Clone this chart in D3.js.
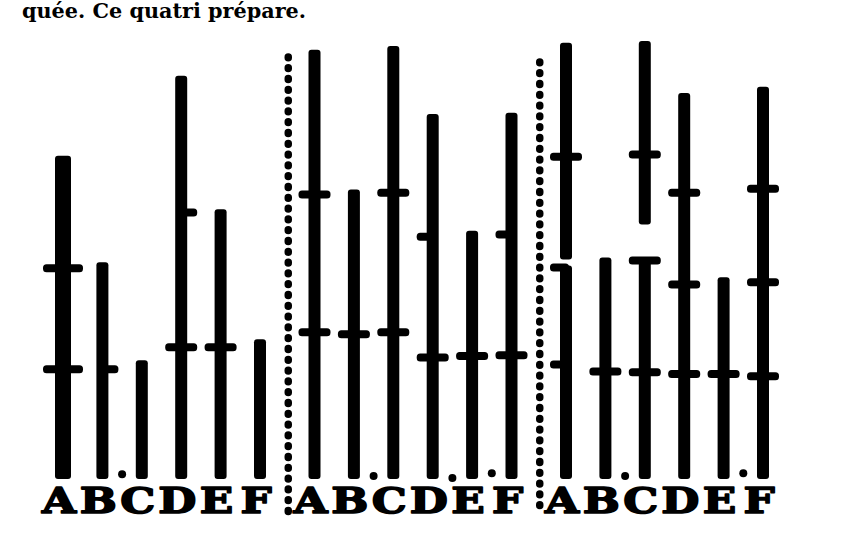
<!DOCTYPE html>
<html>
<head>
<meta charset="utf-8">
<script src="https://cdn.jsdelivr.net/npm/d3@7"></script>
<style>
  html, body { margin: 0; padding: 0; background: #fff; }
  svg { display: block; }
</style>
</head>
<body>
<svg id="chart" width="846" height="554"></svg>
<script>
// ---------- data ----------
const groups = ["I", "II", "III"];
const categories = ["A", "B", "C", "D", "E", "F"];

// height of each bar (units 0..100)
const barTops = [
  [73.2, 48.9, 26.6, 91.4, 61.0, 31.4],
  [97.3, 65.5, 98.2, 82.7, 56.1, 83.0],
  [98.9, 50.0, 99.3, 87.5, 45.5, 88.9]
];

// cross marks on each bar: values and the side they stick out on
const markValues = [
  [[48.0, 25.0], [25.0], [], [60.7, 30.0], [30.0], []],
  [[64.8, 33.4], [33.0], [65.2, 33.4], [55.2, 27.7], [28.0], [55.7, 28.2]],
  [[73.4, 48.2, 26.1], [24.5], [73.9, 49.8, 24.3], [65.2, 44.3, 23.9], [23.9], [66.1, 44.8, 23.4]]
];
const markSides = [
  [["both", "both"], ["right"], [], ["right", "both"], ["both"], []],
  [["both", "both"], ["both"], ["both", "both"], ["left", "both"], ["both"], ["left", "both"]],
  [["both", "left", "left"], ["both"], ["both", "both", "both"], ["both", "both", "both"], ["both"], ["both", "both", "both"]]
];

// interruptions in a bar: [group index, category, lower segment top, upper segment bottom]
const barGaps = [
  [2, "A", 48.2, 50.0],
  [2, "C", 49.8, 58.0]
];

// small dots lying between two bars near the base: [group index, category left of dot, value]
const baseDots = [
  [0, "B", 1.1],
  [1, "B", 0.7],
  [1, "D", 0.2],
  [1, "E", 1.3],
  [2, "B", 0.7],
  [2, "E", 1.3]
];

const headerText = "quée. Ce quatri prépare.";

// ---------- scales ----------
const svg = d3.select("#chart");
svg.append("rect").attr("width", 846).attr("height", 554).attr("fill", "#fff");

const gx = d3.scalePoint().domain(groups).range([63, 566]);
const cx = d3.scalePoint().domain(categories).range([0, 197]);
const y = d3.scaleLinear().domain([0, 100]).range([479, 40]);

const X = (gi, c) => gx(groups[gi]) + cx(c);
const ink = "#000";
const barW = (gi, ci) => (gi === 0 && ci === 0) ? 16 : 12;

// ---------- header text ----------
svg.append("text")
  .attr("x", 22).attr("y", 18)
  .attr("textLength", 284).attr("lengthAdjust", "spacingAndGlyphs")
  .style("font-family", "'DejaVu Serif', serif")
  .style("font-weight", "bold")
  .style("font-size", "20px")
  .attr("fill", ink)
  .text(headerText);

// ---------- dotted separators between groups ----------
const seps = d3.range(groups.length - 1).map(i => ({
  x: (X(i, "F") + X(i + 1, "A")) / 2 + 1,
  top: i === 0 ? 57 : 62
}));
svg.selectAll("line.sep").data(seps).join("line")
  .attr("class", "sep")
  .attr("x1", d => d.x).attr("x2", d => d.x)
  .attr("y1", d => d.top).attr("y2", 512)
  .attr("stroke", ink)
  .attr("stroke-width", 7.5)
  .attr("stroke-linecap", "round")
  .attr("stroke-dasharray", "0.8 10");

// ---------- bars ----------
const segs = [];
barTops.forEach((row, gi) => row.forEach((top, ci) => {
  const c = categories[ci];
  const gap = barGaps.find(g => g[0] === gi && g[1] === c);
  if (gap) {
    segs.push({ gi, ci, lo: 0, hi: gap[2] });
    segs.push({ gi, ci, lo: gap[3], hi: top });
  } else {
    segs.push({ gi, ci, lo: 0, hi: top });
  }
}));

svg.selectAll("rect.bar").data(segs).join("rect")
  .attr("class", "bar")
  .attr("x", d => X(d.gi, categories[d.ci]) - barW(d.gi, d.ci) / 2)
  .attr("width", d => barW(d.gi, d.ci))
  .attr("y", d => y(d.hi) - 2)
  .attr("height", d => y(d.lo) - y(d.hi) + 2)
  .attr("rx", 3)
  .attr("fill", ink);

// ---------- cross marks ----------
const marks = [];
markValues.forEach((row, gi) => row.forEach((vals, ci) => vals.forEach((v, k) => {
  marks.push({ gi, ci, v, side: markSides[gi][ci][k] });
})));

svg.selectAll("rect.mark").data(marks).join("rect")
  .attr("class", "mark")
  .attr("x", d => {
    const x0 = X(d.gi, categories[d.ci]);
    const half = barW(d.gi, d.ci) + 4;
    return d.side === "right" ? x0 - 3 : x0 - half;
  })
  .attr("width", d => {
    const half = barW(d.gi, d.ci) + 4;
    return d.side === "both" ? half * 2 : half + 3;
  })
  .attr("y", d => y(d.v) - 4)
  .attr("height", 8)
  .attr("rx", 3.5)
  .attr("fill", ink);

// ---------- small dots near the base ----------
svg.selectAll("circle.dot").data(baseDots).join("circle")
  .attr("class", "dot")
  .attr("cx", d => X(d[0], d[1]) + cx.step() / 2)
  .attr("cy", d => y(d[2]))
  .attr("r", 4)
  .attr("fill", ink);

// ---------- category letters ----------
const letters = [];
groups.forEach((g, gi) => categories.forEach(c => letters.push({ gi, c })));
svg.selectAll("text.cat").data(letters).join("text")
  .attr("class", "cat")
  .attr("transform", d => `translate(${X(d.gi, d.c) - 4},513) scale(1.22,1)`)
  .attr("text-anchor", "middle")
  .style("font-family", "'DejaVu Serif', serif")
  .style("font-weight", "bold")
  .style("font-size", "36px")
  .attr("fill", ink)
  .attr("stroke", ink)
  .attr("stroke-width", 1.6)
  .attr("stroke-linejoin", "round")
  .text(d => d.c);
</script>
</body>
</html>
